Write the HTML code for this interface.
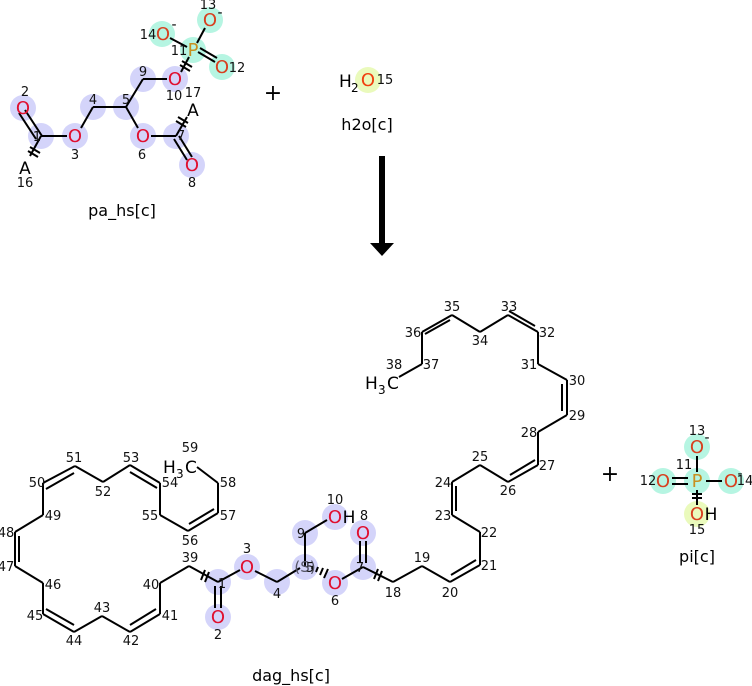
<!DOCTYPE html>
<html><head><meta charset="utf-8"><style>
html,body{margin:0;padding:0;background:#fff;}
svg{display:block;font-family:"DejaVu Sans","Liberation Sans",sans-serif;}
.n{font-size:13px;fill:#111;text-anchor:middle;}
.o{font-size:18px;fill:#e01030;text-anchor:middle;}
.o2{font-size:18px;fill:#d84020;text-anchor:middle;}
.k{font-size:17px;fill:#000;text-anchor:middle;}
.l{font-size:16px;fill:#000;text-anchor:middle;}
line{stroke:#000;stroke-width:2;}
</style></head><body>
<svg width="752" height="686" viewBox="0 0 752 686" xmlns="http://www.w3.org/2000/svg">
<g fill="#d4d4fa">
<circle cx="23" cy="108" r="13"/><circle cx="41" cy="136" r="13"/><circle cx="75" cy="136" r="13"/>
<circle cx="93" cy="107" r="13"/><circle cx="126" cy="107" r="13"/><circle cx="143" cy="79" r="13"/>
<circle cx="175" cy="79" r="13"/><circle cx="143" cy="136" r="13"/><circle cx="176" cy="136" r="13"/>
<circle cx="192" cy="165" r="13"/>
</g>
<g fill="#b6f5e2">
<circle cx="193" cy="50" r="13"/><circle cx="162" cy="34" r="13"/><circle cx="210" cy="20" r="13"/><circle cx="222" cy="67" r="13"/>
<circle cx="697" cy="481" r="13"/><circle cx="697" cy="447" r="13"/><circle cx="663" cy="481" r="13"/><circle cx="731" cy="481" r="13"/>
</g>
<g fill="#eafabc"><circle cx="368" cy="80" r="13"/><circle cx="697" cy="514" r="13"/></g>
<line x1="19" y1="113" x2="36" y2="139"/><line x1="25" y1="110" x2="42" y2="136"/>
<line x1="41" y1="136" x2="67" y2="136"/>
<line x1="41" y1="136" x2="30" y2="156"/>
<line x1="30" y1="147" x2="40" y2="153"/><line x1="28" y1="151" x2="38" y2="157"/>
<line x1="81" y1="128" x2="93" y2="107"/><line x1="93" y1="107" x2="126" y2="107"/>
<line x1="126" y1="107" x2="143" y2="79"/><line x1="143" y1="79" x2="167" y2="79"/>
<line x1="126" y1="107" x2="138" y2="128"/><line x1="151" y1="136" x2="176" y2="136"/>
<line x1="176" y1="136" x2="187" y2="117"/>
<line x1="176" y1="121" x2="186" y2="127"/><line x1="178" y1="117" x2="188" y2="123"/>
<line x1="174" y1="139" x2="187" y2="160"/><line x1="179" y1="136" x2="192" y2="157"/>
<line x1="181" y1="72" x2="189" y2="57"/>
<line x1="180" y1="65" x2="190" y2="71"/><line x1="182" y1="61" x2="192" y2="67"/>
<line x1="170" y1="38" x2="187" y2="47"/><line x1="197" y1="43" x2="205" y2="28"/>
<line x1="198" y1="52" x2="215" y2="62"/><line x1="200" y1="48" x2="217" y2="58"/>
<text class="o" x="23" y="114">O</text><text class="o" x="75" y="142">O</text><text class="o" x="143" y="142">O</text>
<text class="o" x="175" y="85">O</text><text class="o" x="192" y="171">O</text>
<text class="o2" x="163" y="40">O</text><text class="o2" x="210" y="26">O</text><text class="o2" x="222" y="73">O</text>
<text x="193" y="56" style="font-size:18px;fill:#c89020;text-anchor:middle">P</text>
<text class="n" x="25" y="96">2</text><text class="n" x="37" y="141">1</text><text class="n" x="75" y="159">3</text>
<text class="n" x="93" y="104">4</text><text class="n" x="126" y="104">5</text><text class="n" x="143" y="76">9</text>
<text class="n" x="174" y="100">10</text><text class="n" x="193" y="97">17</text><text class="n" x="142" y="159">6</text>
<text class="n" x="181" y="140">7</text><text class="n" x="192" y="187">8</text><text class="n" x="25" y="187">16</text>
<text class="k" x="25" y="174">A</text><text class="k" x="193" y="116">A</text>
<text class="n" x="148" y="39">14</text><text class="n" x="179" y="55">11</text><text class="n" x="208" y="9">13</text><text class="n" x="237" y="72">12</text>
<text class="k" x="174" y="29" style="font-size:14px">-</text><text class="k" x="220" y="17" style="font-size:14px">-</text>
<text class="l" x="122" y="216">pa_hs[c]</text>
<text x="273" y="100" style="font-size:22px;text-anchor:middle">+</text>
<text x="339" y="87" style="font-size:17px">H</text><text x="351" y="92" style="font-size:12px">2</text>
<text x="368" y="86" style="font-size:18px;fill:#f04010;text-anchor:middle">O</text>
<text class="n" x="385" y="84">15</text>
<text class="l" x="367" y="130">h2o[c]</text>
<rect x="379" y="156" width="6" height="88" fill="#000"/>
<polygon points="370,243 394,243 382,256" fill="#000"/>
<g fill="#d4d4fa">
<circle cx="218" cy="582" r="13"/><circle cx="218" cy="617" r="13"/><circle cx="247" cy="567" r="13"/>
<circle cx="277" cy="582" r="13"/><circle cx="305" cy="567" r="13"/><circle cx="305" cy="533" r="13"/>
<circle cx="335" cy="517" r="13"/><circle cx="335" cy="583" r="13"/><circle cx="363" cy="567" r="13"/><circle cx="363" cy="533" r="13"/>
</g>
<g>
<line x1="189" y1="566" x2="160" y2="583"/><line x1="160" y1="583" x2="160" y2="614"/>
<line x1="160" y1="614" x2="130" y2="632"/><line x1="156" y1="609" x2="130" y2="625"/>
<line x1="130" y1="632" x2="102" y2="616"/><line x1="102" y1="616" x2="74" y2="632"/>
<line x1="74" y1="632" x2="43" y2="614"/><line x1="74" y1="625" x2="46" y2="609"/>
<line x1="43" y1="614" x2="43" y2="583"/><line x1="43" y1="583" x2="15" y2="566"/>
<line x1="15" y1="566" x2="15" y2="532"/><line x1="19" y1="562" x2="19" y2="536"/>
<line x1="15" y1="532" x2="43" y2="515"/><line x1="43" y1="515" x2="43" y2="483"/>
<line x1="43" y1="483" x2="75" y2="466"/><line x1="46" y1="489" x2="74" y2="473"/>
<line x1="75" y1="466" x2="103" y2="482"/><line x1="103" y1="482" x2="130" y2="465"/>
<line x1="130" y1="465" x2="160" y2="483"/><line x1="130" y1="472" x2="157" y2="488"/>
<line x1="160" y1="483" x2="160" y2="515"/><line x1="160" y1="515" x2="188" y2="531"/>
<line x1="188" y1="531" x2="218" y2="513"/><line x1="189" y1="524" x2="214" y2="509"/>
<line x1="218" y1="513" x2="218" y2="483"/><line x1="218" y1="483" x2="197" y2="467"/>
<line x1="189" y1="566" x2="218" y2="582"/>
<line x1="201" y1="580" x2="205" y2="570"/><line x1="205" y1="582" x2="209" y2="572"/>
<line x1="215" y1="586" x2="215" y2="608"/><line x1="221" y1="586" x2="221" y2="608"/>
<line x1="218" y1="582" x2="240" y2="570"/><line x1="255" y1="571" x2="277" y2="582"/>
<line x1="277" y1="582" x2="300" y2="568"/><line x1="305" y1="567" x2="305" y2="533"/>
<line x1="305" y1="533" x2="327" y2="520"/>
<line x1="342" y1="579" x2="363" y2="567"/>
<line x1="360" y1="563" x2="360" y2="541"/><line x1="366" y1="563" x2="366" y2="541"/>
<line x1="363" y1="567" x2="393" y2="582"/>
<line x1="374" y1="579" x2="378" y2="569"/><line x1="378" y1="581" x2="382" y2="571"/>
<line x1="393" y1="582" x2="422" y2="566"/><line x1="422" y1="566" x2="450" y2="582"/>
<line x1="450" y1="582" x2="480" y2="565"/><line x1="451" y1="575" x2="476" y2="560"/>
<line x1="480" y1="565" x2="480" y2="532"/><line x1="480" y1="532" x2="452" y2="515"/>
<line x1="452" y1="515" x2="452" y2="482"/><line x1="456" y1="511" x2="456" y2="486"/>
<line x1="452" y1="482" x2="480" y2="465"/><line x1="480" y1="465" x2="508" y2="482"/>
<line x1="508" y1="482" x2="538" y2="465"/><line x1="510" y1="475" x2="535" y2="460"/>
<line x1="538" y1="465" x2="538" y2="432"/><line x1="538" y1="432" x2="567" y2="415"/>
<line x1="567" y1="415" x2="567" y2="380"/><line x1="562" y1="411" x2="562" y2="384"/>
<line x1="567" y1="380" x2="538" y2="364"/><line x1="538" y1="364" x2="538" y2="332"/>
<line x1="538" y1="332" x2="508" y2="315"/><line x1="535" y1="326" x2="509" y2="311"/>
<line x1="508" y1="315" x2="480" y2="332"/><line x1="480" y1="332" x2="452" y2="315"/>
<line x1="452" y1="315" x2="422" y2="332"/><line x1="450" y1="320" x2="425" y2="334"/>
<line x1="422" y1="332" x2="422" y2="364"/><line x1="422" y1="364" x2="399" y2="377"/>
</g>
<g stroke="#000" stroke-width="1.5">
<line x1="312" y1="569" x2="313" y2="566"/><line x1="316" y1="572" x2="318" y2="567"/>
<line x1="320" y1="575" x2="323" y2="568"/><line x1="324" y1="578" x2="328" y2="569"/>
</g>
<text class="o" x="218" y="623">O</text><text class="o" x="247" y="573">O</text><text class="o" x="335" y="523">O</text>
<text class="k" x="349" y="523">H</text>
<text class="o" x="335" y="589">O</text><text class="o" x="363" y="539">O</text>
<text x="305" y="572" style="font-size:15px;fill:#556;text-anchor:middle">(S)</text>
<text class="n" x="310" y="572">5</text>
<text x="163" y="473" style="font-size:17px">H</text><text x="176" y="478" style="font-size:12px">3</text><text x="185" y="473" style="font-size:17px">C</text>
<text x="365" y="389" style="font-size:17px">H</text><text x="378" y="394" style="font-size:12px">3</text><text x="387" y="389" style="font-size:17px">C</text>
<g>
<text class="n" x="190" y="452">59</text><text class="n" x="228" y="487">58</text><text class="n" x="228" y="520">57</text>
<text class="n" x="190" y="545">56</text><text class="n" x="150" y="520">55</text><text class="n" x="170" y="487">54</text>
<text class="n" x="131" y="462">53</text><text class="n" x="103" y="496">52</text><text class="n" x="74" y="462">51</text>
<text class="n" x="37" y="487">50</text><text class="n" x="53" y="520">49</text><text class="n" x="6" y="537">48</text>
<text class="n" x="6" y="571">47</text><text class="n" x="53" y="589">46</text><text class="n" x="35" y="620">45</text>
<text class="n" x="74" y="645">44</text><text class="n" x="102" y="612">43</text><text class="n" x="131" y="645">42</text>
<text class="n" x="170" y="620">41</text><text class="n" x="151" y="589">40</text><text class="n" x="190" y="562">39</text>
<text class="n" x="222" y="588">1</text><text class="n" x="218" y="639">2</text><text class="n" x="247" y="553">3</text>
<text class="n" x="277" y="598">4</text><text class="n" x="301" y="538">9</text><text class="n" x="335" y="504">10</text>
<text class="n" x="335" y="605">6</text><text class="n" x="364" y="520">8</text><text class="n" x="360" y="572">7</text>
<text class="n" x="393" y="597">18</text><text class="n" x="422" y="562">19</text><text class="n" x="450" y="597">20</text>
<text class="n" x="489" y="570">21</text><text class="n" x="489" y="537">22</text><text class="n" x="443" y="520">23</text>
<text class="n" x="443" y="487">24</text><text class="n" x="480" y="461">25</text><text class="n" x="508" y="495">26</text>
<text class="n" x="547" y="470">27</text><text class="n" x="529" y="437">28</text><text class="n" x="577" y="420">29</text>
<text class="n" x="577" y="385">30</text><text class="n" x="529" y="369">31</text><text class="n" x="547" y="337">32</text>
<text class="n" x="509" y="311">33</text><text class="n" x="480" y="345">34</text><text class="n" x="452" y="311">35</text>
<text class="n" x="413" y="337">36</text><text class="n" x="431" y="369">37</text><text class="n" x="394" y="369">38</text>
</g>
<text class="l" x="291" y="681">dag_hs[c]</text>
<text x="610" y="481" style="font-size:22px;text-anchor:middle">+</text>
<line x1="697" y1="456" x2="697" y2="472"/>
<line x1="672" y1="478" x2="688" y2="478"/><line x1="672" y1="484" x2="688" y2="484"/>
<line x1="706" y1="481" x2="722" y2="481"/>
<line x1="697" y1="490" x2="697" y2="505"/>
<line x1="692" y1="494" x2="702" y2="494"/><line x1="692" y1="498" x2="702" y2="498"/>
<text class="o2" x="697" y="453">O</text><text class="o2" x="663" y="487">O</text><text class="o2" x="731" y="487">O</text>
<text class="o2" x="697" y="520">O</text><text class="k" x="711" y="520">H</text>
<text x="697" y="487" style="font-size:18px;fill:#c89020;text-anchor:middle">P</text>
<text class="n" x="697" y="435">13</text><text class="k" x="707" y="442" style="font-size:14px">-</text>
<text class="n" x="684" y="469">11</text><text class="n" x="648" y="485">12</text>
<text class="n" x="745" y="485">14</text><text class="k" x="740" y="478" style="font-size:14px">-</text>
<text class="n" x="697" y="534">15</text>
<text class="l" x="697" y="562">pi[c]</text>
</svg>
</body></html>
